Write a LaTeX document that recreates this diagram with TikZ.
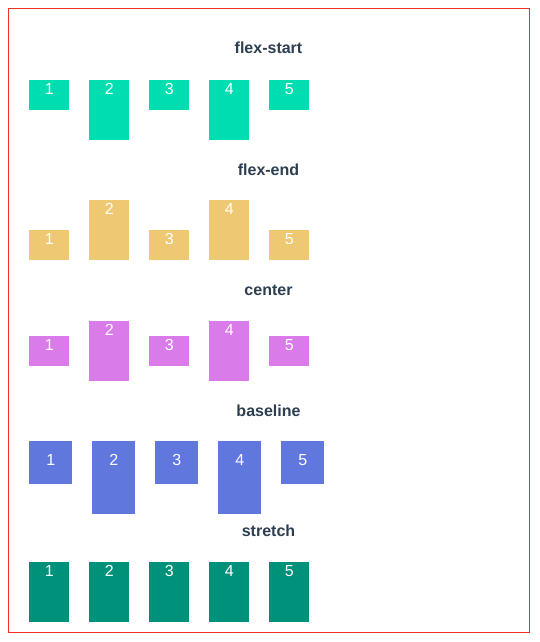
\documentclass[tikz,border=0pt]{standalone}
\usepackage{fontspec}
\setmainfont{Liberation Sans}
\definecolor{cstart}{RGB}{0,221,176}
\definecolor{cend}{RGB}{238,200,114}
\definecolor{ccenter}{RGB}{218,123,234}
\definecolor{cbase}{RGB}{96,119,222}
\definecolor{cstretch}{RGB}{0,145,122}
\definecolor{ctitle}{RGB}{44,62,80}
\definecolor{cframe}{RGB}{240,48,32}
\begin{document}
\begin{tikzpicture}[x=1pt,y=-1pt,
  box/.style={rectangle, draw=none, inner sep=0pt, minimum width=40pt, anchor=north west},
  num/.style={text=white, font=\fontsize{16}{16}\selectfont, anchor=base, inner sep=0pt},
  ttl/.style={text=ctitle, font=\bfseries\fontsize{16}{16}\selectfont, anchor=base, inner sep=0pt}]
\useasboundingbox (0,0) rectangle (540,642);
\draw[cframe, line width=1pt] (8.5,8.5) rectangle (529.5,632.5);
% flex-start
\node[ttl] (t1) at (268.5,54) {flex-start};
\foreach \i/\h in {1/30,2/60,3/30,4/60,5/30} {
  \node[box, fill=cstart, minimum height=\h pt] (fs\i) at ({29+60*(\i-1)},80) {};
  \node[num] (nfs\i) at ([yshift=-14.3pt]fs\i.north) {\i};
}
% flex-end
\node[ttl] (t2) at (268.5,175) {flex-end};
\foreach \i/\h in {1/30,2/60,3/30,4/60,5/30} {
  \node[box, fill=cend, minimum height=\h pt] (fe\i) at ({29+60*(\i-1)},{260-\h}) {};
  \node[num] (nfe\i) at ([yshift=-14.3pt]fe\i.north) {\i};
}
% center
\node[ttl] (t3) at (268.5,295) {center};
\foreach \i/\h in {1/30,2/60,3/30,4/60,5/30} {
  \node[box, fill=ccenter, minimum height=\h pt] (ce\i) at ({29+60*(\i-1)},{351-\h/2}) {};
  \node[num] (nce\i) at ([yshift=-14.3pt]ce\i.north) {\i};
}
% baseline
\node[ttl] (t4) at (268.5,416) {baseline};
\foreach \i/\h in {1/43,2/73,3/43,4/73,5/43} {
  \node[box, fill=cbase, minimum width=43pt, minimum height=\h pt] (bl\i) at ({29+63*(\i-1)},441) {};
  \node[num] (nbl\i) at ([yshift=-24.3pt]bl\i.north) {\i};
}
% stretch
\node[ttl] (t5) at (268.5,536) {stretch};
\foreach \i in {1,...,5} {
  \node[box, fill=cstretch, minimum height=60pt] (st\i) at ({29+60*(\i-1)},562) {};
  \node[num] (nst\i) at ([yshift=-14.3pt]st\i.north) {\i};
}
\end{tikzpicture}
\end{document}
